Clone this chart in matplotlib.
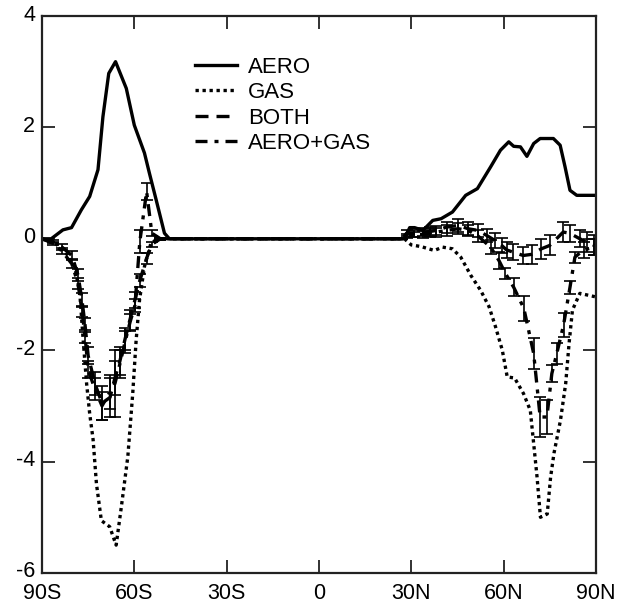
import numpy as np
import matplotlib
matplotlib.use("Agg")
import matplotlib.pyplot as plt
import matplotlib.transforms as mtransforms
from matplotlib.lines import Line2D

plt.rcParams['font.family'] = ['Liberation Sans', 'DejaVu Sans']
plt.rcParams['axes.unicode_minus'] = False

# AERO (solid)
aero_lat = [-90, -87, -83.2, -80.4, -77.2, -74.5, -71.8, -70.2, -68.3, -66.1, -62.6,
            -60, -56.7, -55.1, -52.9, -50.2, -48.6,
            27.8, 29.5, 31.1, 33.8, 37.0, 39.7, 43.4, 47.7, 51.5, 55.8, 59.0, 61.7,
            63.3, 65.5, 67.6, 69.8, 71.9, 76.2, 78.4, 80.0, 81.6, 83.8, 90]
aero_val = [0, 0, 0.16, 0.2, 0.52, 0.76, 1.24, 2.19, 2.97, 3.18, 2.70,
            2.04, 1.54, 1.18, 0.70, 0.10, 0,
            0, 0.2, 0.2, 0.15, 0.33, 0.36, 0.48, 0.78, 0.9, 1.29, 1.59, 1.74,
            1.66, 1.65, 1.48, 1.71, 1.8, 1.8, 1.68, 1.29, 0.87, 0.78, 0.78]

# GAS (dotted)
gas_lat = [-90, -85.3, -82, -79.3, -77.7, -76.6, -75.5, -74.5, -73.4, -72.3, -70.7,
           -68, -65.9, -64.2, -62.1, -60.5, -59.4, -58.3, -56.7, -54.6, -52.4, -50,
           27.8, 30.0, 33.2, 37.5, 40.2, 43.4, 46.1, 49.4, 52.6, 55.3, 57.4, 59.6,
           61.2, 63.6, 66.5, 68.7, 69.8, 70.9, 72.0, 74.2, 75.3, 76.4, 78.5, 80.2,
           81.3, 82.4, 84.8, 89.7]
gas_val = [0, -0.1, -0.27, -0.51, -0.99, -1.83, -2.6, -3.14, -3.6, -4.4, -5.06,
           -5.17, -5.5, -4.81, -3.91, -2.77, -1.82, -1.1, -0.5, -0.08, 0, 0,
           0, -0.11, -0.14, -0.21, -0.15, -0.18, -0.33, -0.66, -0.93, -1.22, -1.58, -2.0,
           -2.48, -2.5, -2.78, -3.08, -3.68, -4.28, -5.0, -4.94, -4.28, -3.85, -3.26, -2.6,
           -1.88, -1.28, -0.98, -1.04]

# BOTH (dashed) with error bars
both_lat = [-90.0, -86.5, -83.5, -80.3, -78.3, -77.0, -76.0, -75.0, -72.8, -70.5, -67.9,
            -66.3, -64.7, -63.0, -61.4, -59.8, -58.2, -56.0, -54.3, -51.5, -48.0,
            27.0, 28.5, 31.0, 33.9, 36.0, 38.2, 41.5, 45.3, 48.5, 51.7, 54.5, 57.2,
            59.4, 61.0, 63.1, 66.4, 69.1, 72.3, 75.0, 79.4, 81.5, 84.8, 87.0, 89.5]
both_val = [0, -0.05, -0.15, -0.3, -0.65, -1.1, -1.55, -2.1, -2.6, -2.95, -2.85,
            -2.5, -2.2, -1.8, -1.45, -1.1, -0.75, -0.35, -0.1, 0, 0,
            0, 0.1, 0.1, 0.12, 0.13, 0.15, 0.21, 0.24, 0.18, 0.15, 0.06, -0.03,
            -0.12, -0.2, -0.24, -0.3, -0.28, -0.18, -0.12, 0.12, 0.1, 0.0, -0.06, -0.12]
both_err = [0, 0.03, 0.05, 0.08, 0.1, 0.12, 0.12, 0.15, 0.2, 0.3, 0.35,
            0.3, 0.25, 0.2, 0.18, 0.15, 0.12, 0.1, 0.05, 0.02, 0,
            0, 0.05, 0.06, 0.07, 0.08, 0.08, 0.1, 0.12, 0.12, 0.12, 0.12, 0.13,
            0.14, 0.15, 0.15, 0.16, 0.17, 0.18, 0.18, 0.18, 0.15, 0.15, 0.18, 0.18]

# AERO+GAS (dash-dot) with error bars
sum_lat = [-90.0, -86.5, -83.5, -80.3, -78.3, -77.0, -76.0, -75.0, -72.8, -70.5, -67.9,
           -66.3, -64.7, -63.0, -61.4, -59.8, -58.2, -56.0, -54.3, -51.5, -48.0,
           27.0, 28.5, 31.0, 33.9, 36.0, 38.2, 41.5, 45.3, 48.5, 51.7, 55.8, 58.5,
           60.6, 63.3, 66.6, 69.8, 71.9, 74.1, 75.7, 77.3, 79.5, 81.6, 83.2, 86.0, 89.5]
sum_val = [0, -0.08, -0.22, -0.45, -0.8, -1.3, -1.75, -2.35, -2.7, -3.0, -2.75,
           -2.6, -2.25, -1.85, -1.5, -1.2, -0.05, 0.85, 0.1, 0, 0,
           0, 0.05, 0.08, 0.08, 0.1, 0.12, 0.15, 0.18, 0.15, 0.05, -0.15, -0.39,
           -0.62, -0.87, -1.25, -2.06, -3.2, -3.2, -2.42, -2.06, -1.55, -0.87, -0.33, -0.2, -0.15]
sum_err = [0, 0.03, 0.05, 0.08, 0.1, 0.1, 0.12, 0.15, 0.2, 0.25, 0.3,
           0.6, 0.25, 0.2, 0.15, 0.12, 0.2, 0.15, 0.05, 0.02, 0,
           0, 0.04, 0.05, 0.06, 0.07, 0.08, 0.1, 0.1, 0.1, 0.1, 0.12, 0.15,
           0.1, 0.16, 0.22, 0.27, 0.36, 0.3, 0.15, 0.18, 0.22, 0.12, 0.1, 0.15, 0.15]

xticks = [-90, -60, -30, 0, 30, 60, 90]
xlabels = ['90S', '60S', '30S', '0', '30N', '60N', '90N']
yticks = [-6, -4, -2, 0, 2, 4]

fig = plt.figure(figsize=(6.23, 6.03), dpi=100)
ax = fig.add_axes([0.0674, 0.0498, 0.889, 0.9237])

lw = 2.4
styles = {'AERO': '-', 'GAS': (0, (1, 1.1)), 'BOTH': (0, (3.9, 2.4)),
          'AERO+GAS': (0, (3.6, 2.1, 1.2, 2.1))}

ax.plot(aero_lat, aero_val, color='black', lw=lw, ls=styles['AERO'])
ax.plot(gas_lat, gas_val, color='black', lw=lw, ls=styles['GAS'])
ax.errorbar(both_lat, both_val, yerr=both_err, color='black', lw=lw,
            ls=styles['BOTH'], elinewidth=1.2, capsize=4.5, capthick=1.2)
ax.errorbar(sum_lat, sum_val, yerr=sum_err, color='black', lw=lw,
            ls=styles['AERO+GAS'], elinewidth=1.2, capsize=4.5, capthick=1.2)

ax.set_xlim(-90, 90)
ax.set_ylim(-6, 4)
ax.set_xticks(xticks)
ax.set_xticklabels(xlabels)
ax.set_yticks(yticks)
ax.set_yticklabels([str(t) for t in yticks])
ax.tick_params(direction='in', length=9.4, width=1.3, top=True, right=True,
               labelsize=15.5, color='#222222')
ax.tick_params(axis='x', pad=7)
ax.tick_params(axis='y', pad=5)
for s in ax.spines.values():
    s.set_linewidth(1.6)
    s.set_color('#222222')

# nudge y labels up a little so "-6" clears "90S"
shift = mtransforms.ScaledTranslation(0, 2.5 / 72, fig.dpi_scale_trans)
for lab in ax.get_yticklabels():
    lab.set_transform(lab.get_transform() + shift)

# legend uses plain line samples
handles = [Line2D([], [], color='black', lw=lw, ls=styles[k]) for k in styles]
ax.legend(handles, list(styles.keys()), loc='upper left', bbox_to_anchor=(0.276, 0.927),
          frameon=False, fontsize=16, handlelength=1.9, handletextpad=0.5,
          labelspacing=0.2, borderpad=0, borderaxespad=0)

fig.savefig('out.png', dpi=100)
